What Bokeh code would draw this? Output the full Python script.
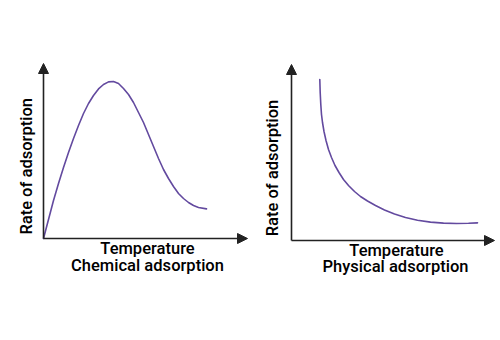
import math
from bokeh.plotting import figure
from bokeh.layouts import row
from bokeh.models import Range1d, Arrow, NormalHead, Label
from bokeh.embed import file_html
from bokeh.resources import INLINE

# ---- data (arbitrary units) ----
chem_temp = [0, 0.25, 0.5, 0.75, 1.0, 1.25, 1.5, 1.75, 2.0, 2.25, 2.5, 2.75, 3.0, 3.25,
             3.5, 3.75, 4.0, 4.25, 4.5, 4.75, 5.0, 5.25, 5.5, 5.75, 6.0, 6.25, 6.5,
             6.75, 7.0, 7.25, 7.5, 7.75, 8.15]
chem_rate = [0, 0.95, 1.9, 2.75, 3.55, 4.3, 5.0, 5.65, 6.25, 6.75, 7.15, 7.48, 7.7, 7.83,
             7.85, 7.75, 7.5, 7.2, 6.8, 6.3, 5.8, 5.2, 4.6, 4.0, 3.45, 3.0, 2.6,
             2.25, 2.0, 1.8, 1.65, 1.55, 1.48]

phys_temp = [1.415, 1.435, 1.465, 1.5, 1.55, 1.625, 1.725, 1.85, 2.0, 2.175, 2.375, 2.6,
             2.85, 3.15, 3.45, 3.8, 4.2, 4.65, 5.15, 5.7, 6.3, 6.95, 7.6, 8.25, 8.85, 9.3]
phys_rate = [8.05, 7.4, 6.8, 6.3, 5.9, 5.45, 5.0, 4.55, 4.15, 3.75, 3.4, 3.05,
             2.75, 2.45, 2.2, 1.975, 1.75, 1.525, 1.325, 1.15, 1.01, 0.92, 0.87, 0.85, 0.86, 0.88]

x_label = "Temperature"
y_label = "Rate of adsorption"
titles = ["Chemical adsorption", "Physical adsorption"]

CURVE = "#634a9f"
AXIS = "#222222"
FONT = "Roboto Medium"
FS = "16.5px"


def panel(width, xr, yr, xs, ys, x_tip, y_tip, ylab_x, ylab_y, xlab_x, xlab_y, title_x, title_y, title):
    p = figure(width=width, height=324, output_backend="svg", toolbar_location=None,
               x_range=Range1d(*xr), y_range=Range1d(*yr), min_border=0)
    p.axis.visible = False
    p.grid.visible = False
    p.outline_line_color = None
    p.background_fill_color = "white"
    p.border_fill_color = "white"
    p.line(xs, ys, line_color=CURVE, line_width=1.6, line_join="round", line_cap="round")
    p.add_layout(Arrow(end=NormalHead(size=10, fill_color=AXIS, line_color=AXIS),
                       x_start=0, y_start=0, x_end=x_tip, y_end=0,
                       line_color=AXIS, line_width=1.6))
    p.add_layout(Arrow(end=NormalHead(size=10, fill_color=AXIS, line_color=AXIS),
                       x_start=0, y_start=0, x_end=0, y_end=y_tip,
                       line_color=AXIS, line_width=1.6))
    p.add_layout(Label(x=ylab_x, y=ylab_y, text=y_label, angle=math.pi / 2,
                       text_align="center", text_baseline="alphabetic",
                       text_font=FONT, text_font_size=FS, text_color="black"))
    p.add_layout(Label(x=xlab_x, y=xlab_y, text=x_label,
                       text_align="center", text_baseline="alphabetic",
                       text_font=FONT, text_font_size=FS, text_color="black"))
    p.add_layout(Label(x=title_x, y=title_y, text=title,
                       text_align="center", text_baseline="alphabetic",
                       text_font=FONT, text_font_size=FS, text_color="black"))
    return p


p1 = panel(250, (-2.15, 10.35), (-4.3, 11.9), chem_temp, chem_rate, 10.2, 8.75,
           -0.85, 3.61, 5.2, -0.5, 5.2, -1.35, titles[0])
p2 = panel(245, (-2.05, 10.2), (-4.2, 12.0), phys_temp, phys_rate, 10.15, 8.8,
           -0.93, 3.625, 5.25, -0.48, 5.2, -1.28, titles[1])

layout = row(p1, p2, spacing=0)
open("out.html", "w").write(file_html(layout, INLINE))
